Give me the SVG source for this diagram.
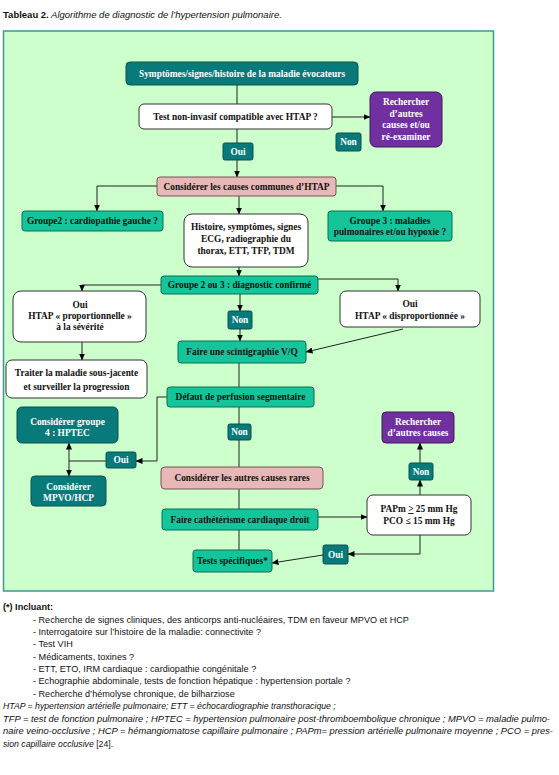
<svg xmlns="http://www.w3.org/2000/svg" width="559" height="775" viewBox="0 0 559 775">
<defs>
<marker id="ah" markerWidth="7" markerHeight="6" refX="6.5" refY="3" orient="auto" markerUnits="userSpaceOnUse">
<path d="M0,0 L7,3 L0,6 Z" fill="#000"/>
</marker>
<style>
.t{font-family:"Liberation Serif","Times New Roman",serif;font-weight:bold;font-size:9.4px;text-anchor:middle}
.w{fill:#fff}
.d{fill:#111}
.teal{fill:#087a7a;stroke:#0a5050;stroke-width:1}
.green{fill:#14c49a;stroke:#0b6e55;stroke-width:1}
.pink{fill:#e6b8b7;stroke:#7a5050;stroke-width:1}
.white{fill:#fff;stroke:#333;stroke-width:1}
.purple{fill:#7030a0;stroke:#3e1a5a;stroke-width:1}
.c{fill:none;stroke:#222;stroke-width:1}
.a{marker-end:url(#ah)}
.f{font-family:"Liberation Sans",Arial,sans-serif;font-size:9.1px;fill:#111}
.fi{font-style:italic;font-size:8.7px}
</style>
</defs>
<rect width="559" height="775" fill="#fff"/>
<text x="3" y="18" class="f" style="font-size:9.5px"><tspan font-weight="bold">Tableau 2.</tspan><tspan font-style="italic"> Algorithme de diagnostic de l’hypertension pulmonaire.</tspan></text>
<rect x="3.5" y="31" width="490" height="560" fill="#ccffcc" stroke="#3a9a9a" stroke-width="1.5"/>

<g id="connectors">
<path class="c" d="M237,85 V143"/>
<path class="c a" d="M237,160 V177"/>
<path class="c a" d="M332,117 H370"/>
<path class="c a" d="M157,186 H97 V211"/>
<path class="c a" d="M336,186 H383 V211"/>
<path class="c a" d="M239,196 V214"/>
<path class="c a" d="M239,267 V276"/>
<path class="c a" d="M161,285 H82 V291"/>
<path class="c a" d="M318,279 H398 V291"/>
<path class="c a" d="M240,294 V311"/>
<path class="c a" d="M240,329 V341"/>
<path class="c a" d="M403,329 L306,352"/>
<path class="c a" d="M82,342 V360"/>
<path class="c" d="M239,363 V387"/>
<path class="c a" d="M167,397 H157 V461 H136"/>
<path class="c" d="M106,461 H69"/>
<path class="c a" d="M69,461 V443"/>
<path class="c a" d="M69,461 V476"/>
<path class="c" d="M239,407 V424"/>
<path class="c" d="M239,440 V467"/>
<path class="c" d="M239,489 V509"/>
<path class="c" d="M239,530 V550"/>
<path class="c a" d="M318,517 H367"/>
<path class="c a" d="M420,495 V480"/>
<path class="c a" d="M420,463 V443"/>
<path class="c a" d="M420,535 V554 H348"/>
<path class="c a" d="M323,555 L272,563"/>
</g>

<g id="n-symptomes"><rect class="teal" x="126" y="62" width="232" height="23" rx="4"/><text class="t w" x="242" y="77">Symptômes/signes/histoire de la maladie évocateurs</text></g>
<g id="n-test"><rect class="white" x="139" y="104" width="193" height="25" rx="5"/><text class="t d" x="235.5" y="120">Test non-invasif compatible avec HTAP ?</text></g>
<g id="n-rech1"><rect class="purple" x="370" y="92" width="72" height="55" rx="6"/><text class="t w" x="406" y="105">Rechercher</text><text class="t w" x="406" y="117">d’autres</text><text class="t w" x="406" y="128">causes et/ou</text><text class="t w" x="406" y="140">ré-examiner</text></g>
<g id="n-non1"><rect class="teal" x="336" y="133" width="25" height="18" rx="2"/><text class="t w" x="348.5" y="145">Non</text></g>
<g id="n-oui1"><rect class="teal" x="223" y="143" width="30" height="17" rx="2"/><text class="t w" x="238" y="155">Oui</text></g>
<g id="n-communes"><rect class="pink" x="157" y="177" width="179" height="19" rx="3"/><text class="t d" x="246.5" y="190">Considérer les causes communes d’HTAP</text></g>
<g id="n-groupe2"><rect class="green" x="22" y="211" width="141" height="20" rx="3"/><text class="t d" x="92.5" y="224">Groupe2 : cardiopathie gauche ?</text></g>
<g id="n-groupe3"><rect class="green" x="328" y="211" width="124" height="30" rx="3"/><text class="t d" x="390" y="224">Groupe 3 : maladies</text><text class="t d" x="390" y="235">pulmonaires et/ou  hypoxie ?</text></g>
<g id="n-histoire"><rect class="white" x="184" y="214" width="124" height="53" rx="8"/><text class="t d" x="246" y="230">Histoire, symptômes, signes</text><text class="t d" x="246" y="242">ECG, radiographie du</text><text class="t d" x="246" y="254">thorax, ETT, TFP, TDM</text></g>
<g id="n-groupe23"><rect class="green" x="161" y="276" width="157" height="18" rx="3"/><text class="t d" x="239.5" y="288">Groupe 2 ou 3 : diagnostic confirmé</text></g>
<g id="n-prop"><rect class="white" x="13" y="291" width="133" height="51" rx="8"/><text class="t d" x="80" y="308">Oui</text><text class="t d" x="80" y="319">HTAP « proportionnelle »</text><text class="t d" x="80" y="330">à la sévérité</text></g>
<g id="n-disprop"><rect class="white" x="340" y="291" width="140" height="36" rx="6"/><text class="t d" x="410" y="307">Oui</text><text class="t d" x="410" y="319">HTAP « disproportionnée »</text></g>
<g id="n-non2"><rect class="teal" x="228" y="311" width="24" height="18" rx="2"/><text class="t w" x="240" y="323">Non</text></g>
<g id="n-vq"><rect class="green" x="178" y="341" width="128" height="22" rx="3"/><text class="t d" x="242" y="355">Faire une scintigraphie V/Q</text></g>
<g id="n-traiter"><rect class="white" x="6" y="360" width="141" height="38" rx="6"/><text class="t d" x="76.5" y="376">Traiter la maladie sous-jacente</text><text class="t d" x="76.5" y="390">et surveiller la progression</text></g>
<g id="n-defaut"><rect class="green" x="167" y="387" width="147" height="20" rx="3"/><text class="t d" x="240.5" y="400">Défaut de perfusion segmentaire</text></g>
<g id="n-hptec"><rect class="teal" x="17" y="407" width="101" height="36" rx="5"/><text class="t w" x="67.5" y="425">Considérer groupe</text><text class="t w" x="67.5" y="436">4 : HPTEC</text></g>
<g id="n-oui2"><rect class="teal" x="106" y="452" width="30" height="16" rx="2"/><text class="t w" x="121" y="463">Oui</text></g>
<g id="n-mpvo"><rect class="teal" x="31" y="476" width="75" height="30" rx="4"/><text class="t w" x="68.5" y="490">Considérer</text><text class="t w" x="68.5" y="501">MPVO/HCP</text></g>
<g id="n-non3"><rect class="teal" x="228" y="424" width="23" height="16" rx="2"/><text class="t w" x="239.5" y="435">Non</text></g>
<g id="n-rares"><rect class="pink" x="161" y="467" width="162" height="22" rx="4"/><text class="t d" x="242" y="481">Considérer les autres causes rares</text></g>
<g id="n-cath"><rect class="green" x="162" y="509" width="156" height="21" rx="3"/><text class="t d" x="240" y="523">Faire cathétérisme cardiaque droit</text></g>
<g id="n-tests"><rect class="green" x="193" y="550" width="79" height="22" rx="3"/><text class="t d" x="232.5" y="564">Tests spécifiques*</text></g>
<g id="n-papm"><rect class="white" x="367" y="495" width="104" height="40" rx="6"/><text class="t d" x="419" y="512">PAPm <tspan text-decoration="underline">&gt;</tspan> 25 mm Hg</text><text class="t d" x="419" y="524">PCO ≤ 15 mm Hg</text></g>
<g id="n-non4"><rect class="teal" x="409" y="463" width="24" height="17" rx="2"/><text class="t w" x="421" y="475">Non</text></g>
<g id="n-rech2"><rect class="purple" x="382" y="412" width="72" height="31" rx="4"/><text class="t w" x="418" y="425">Rechercher</text><text class="t w" x="418" y="436">d’autres causes</text></g>
<g id="n-oui3"><rect class="teal" x="323" y="545" width="25" height="19" rx="2"/><text class="t w" x="335.5" y="558">Oui</text></g>

<g id="footnotes">
<text class="f" x="3" y="610" font-weight="bold">(*)  Incluant:</text>
<text class="f" x="33" y="623">- Recherche de signes cliniques, des anticorps anti-nucléaires, TDM en faveur MPVO et HCP</text>
<text class="f" x="33" y="635">- Interrogatoire sur l’histoire de la maladie: connectivite ?</text>
<text class="f" x="33" y="647">- Test VIH</text>
<text class="f" x="33" y="660">- Médicaments, toxines ?</text>
<text class="f" x="33" y="672">- ETT, ETO, IRM cardiaque : cardiopathie congénitale ?</text>
<text class="f" x="33" y="684">- Echographie abdominale, tests de fonction hépatique : hypertension portale ?</text>
<text class="f" x="33" y="697">- Recherche d’hémolyse chronique, de bilharziose</text>
<text class="f fi" x="3" y="709">HTAP = hypertension artérielle pulmonaire; ETT = échocardiographie transthoracique ;</text>
<text class="f fi" x="3" y="722" textLength="547" lengthAdjust="spacingAndGlyphs">TFP = test de fonction pulmonaire ; HPTEC = hypertension pulmonaire post-thromboembolique chronique ; MPVO = maladie pulmo-</text>
<text class="f fi" x="3" y="734" textLength="550" lengthAdjust="spacingAndGlyphs">naire veino-occlusive ; HCP = hémangiomatose capillaire pulmonaire ; PAPm= pression artérielle pulmonaire moyenne ; PCO = pres-</text>
<text class="f" x="3" y="747" style="font-size:8.7px"><tspan font-style="italic">sion capillaire occlusive</tspan>  [24].</text>
</g>
</svg>
